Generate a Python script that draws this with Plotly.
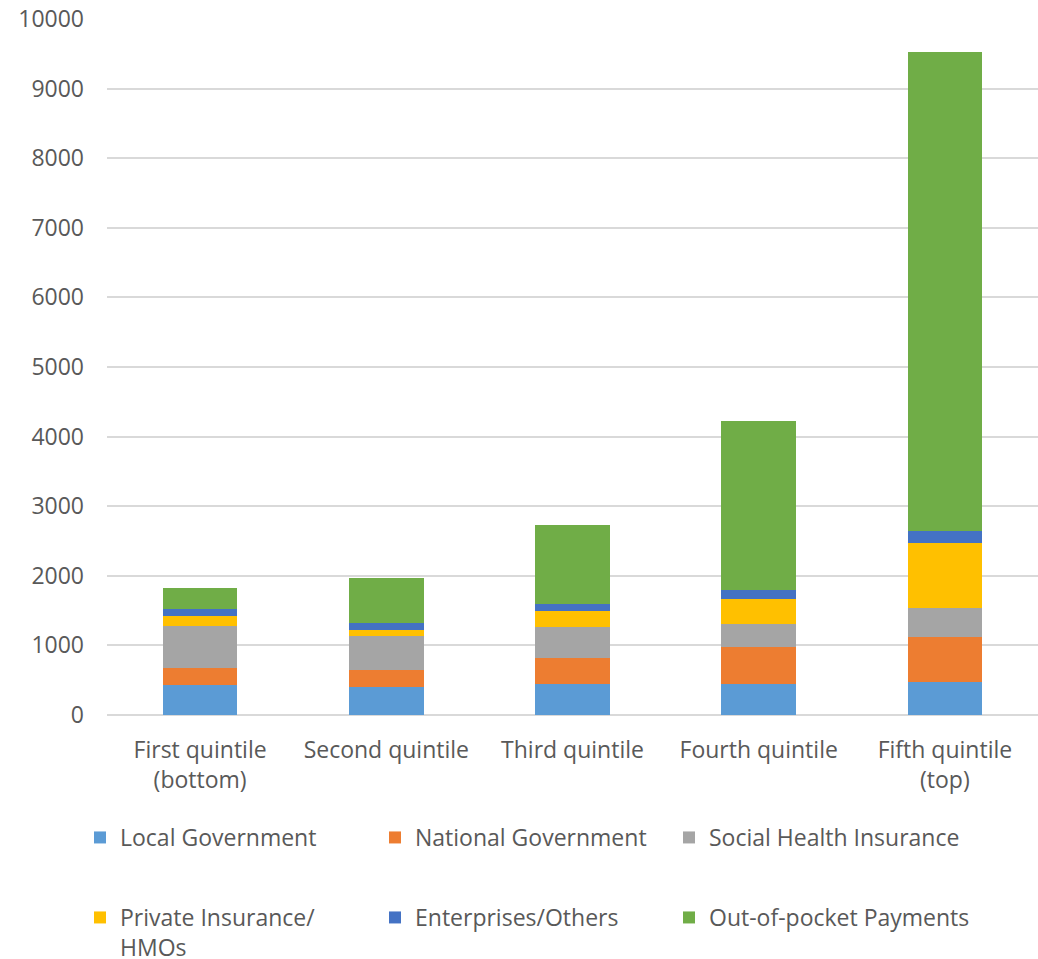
import plotly.graph_objects as go

categories = ["First quintile<br>(bottom)", "Second quintile", "Third quintile",
              "Fourth quintile", "Fifth quintile<br>(top)"]

local_gov = [437, 409, 446, 450, 475]
national_gov = [245, 238, 380, 520, 648]
social_insurance = [599, 490, 436, 339, 418]
private_insurance = [139, 86, 230, 356, 934]
enterprises = [96, 101, 101, 125, 173]
out_of_pocket = [311, 643, 1132, 2436, 6874]

series = [
    ("Local Government", local_gov, "#5B9BD5"),
    ("National Government", national_gov, "#ED7D31"),
    ("Social Health Insurance", social_insurance, "#A5A5A5"),
    ("Private Insurance/<br>HMOs", private_insurance, "#FFC000"),
    ("Enterprises/Others", enterprises, "#4472C4"),
    ("Out-of-pocket Payments", out_of_pocket, "#70AD47"),
]

text_color = "#595959"
font_family = "Open Sans, Lato, sans-serif"

# legend grid: three columns, two rows (pixel positions of each legend box)
legend_cols = [80, 375, 669]
legend_rows = [816, 896]

fig = go.Figure()
legend_layouts = {}
for i, (name, values, color) in enumerate(series):
    leg_id = "legend" if i == 0 else f"legend{i + 1}"
    fig.add_trace(go.Bar(
        x=categories, y=values, name=name,
        marker=dict(color=color, line=dict(width=0)),
        legend=leg_id, showlegend=True,
    ))
    legend_layouts[leg_id] = dict(
        xref="container", yref="container",
        xanchor="left", yanchor="top",
        x=legend_cols[i % 3] / 1038,
        y=1 - legend_rows[i // 3] / 959,
        font=dict(family=font_family, size=23, color=text_color),
        bgcolor="rgba(0,0,0,0)",
        itemwidth=30,
        valign="top",
        visible=True,
    )

fig.update_layout(
    width=1038, height=959,
    showlegend=True,
    # fixed margins: the legends sit in the bottom band without resizing the plot
    margin=dict(l=107, r=0, t=19, b=244, autoexpand=False),
    paper_bgcolor="white", plot_bgcolor="white",
    barmode="stack",
    bargap=0.6,
    font=dict(family=font_family, size=23, color=text_color),
    xaxis=dict(
        showgrid=False, zeroline=False, showline=False,
        ticks="", tickfont=dict(size=23, color=text_color),
        ticklabelstandoff=19,
    ),
    yaxis=dict(
        range=[0, 10000], dtick=1000, tickformat="d",
        showgrid=True, gridcolor="#D9D9D9", gridwidth=1.5,
        zeroline=True, zerolinecolor="#D9D9D9", zerolinewidth=1.5,
        showline=False, ticks="",
        tickfont=dict(size=23, color=text_color),
        ticklabelstandoff=22,
    ),
    **legend_layouts,
)

fig.write_html("out.html")
